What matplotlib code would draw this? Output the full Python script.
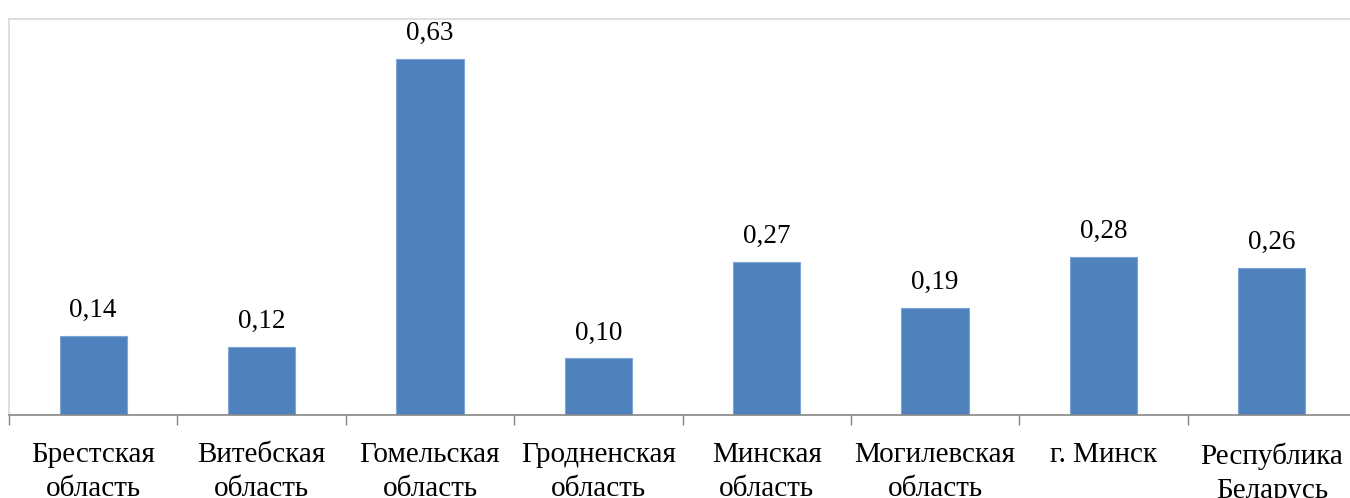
import matplotlib.pyplot as plt
import numpy as np

plt.rcParams['font.family'] = ['Liberation Serif', 'DejaVu Serif']

regions = ['Брестская\nобласть', 'Витебская\nобласть', 'Гомельская\nобласть',
           'Гродненская\nобласть', 'Минская\nобласть', 'Могилевская\nобласть',
           'г. Минск', 'Республика\nБеларусь']
values = [0.14, 0.12, 0.63, 0.10, 0.27, 0.19, 0.28, 0.26]
value_labels = ['0,14', '0,12', '0,63', '0,10', '0,27', '0,19', '0,28', '0,26']

W, H = 1350, 498
fig = plt.figure(figsize=(W / 100, H / 100), dpi=100)
# plot area runs a little past the right edge of the figure
ax = fig.add_axes([9 / W, (H - 415) / H, 1347 / W, 396 / H])

x = np.arange(len(values))
bars = ax.bar(x, values, width=0.4, color='#4f81bd', edgecolor='#7ea6d6',
              linewidth=0.8, zorder=2)

for rect, lab in zip(bars, value_labels):
    ax.annotate(lab, (rect.get_x() + rect.get_width() / 2, rect.get_height()),
                xytext=(0, 13), textcoords='offset pixels',
                ha='center', va='bottom', fontsize=19.5, color='black', zorder=5)

ax.set_xlim(-0.5, len(values) - 0.5)
ax.set_ylim(0, 0.70)
ax.set_yticks([])

ax.set_xticks(x)
ax.set_xticklabels(regions, fontsize=21, linespacing=1.4)
ax.set_xticks(np.arange(len(values) + 1) - 0.5, minor=True)
ax.tick_params(axis='x', which='major', length=0, pad=19.5)
ax.tick_params(axis='x', which='minor', length=7, width=1, color='#868686')

ax.spines['bottom'].set_color('#868686')
ax.spines['bottom'].set_linewidth(1.2)
ax.spines['left'].set_color('#d9d9d9')
ax.spines['top'].set_color('#d9d9d9')
ax.spines['right'].set_visible(False)
for s in ('left', 'top'):
    ax.spines[s].set_linewidth(1.2)

fig.savefig('out.png', dpi=100)
